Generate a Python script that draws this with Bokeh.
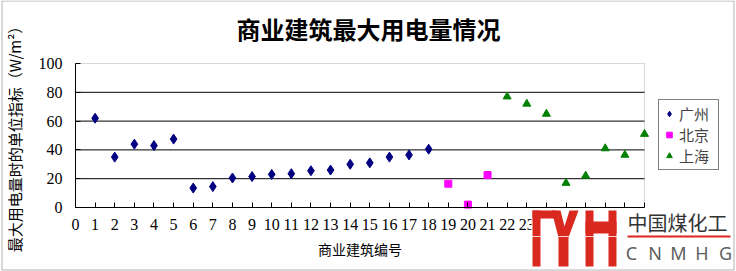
import numpy as np
from bokeh.plotting import figure
from bokeh.models import (FixedTicker, Legend, LegendItem, Label, BoxAnnotation,
                          PolyAnnotation, Range1d)
from bokeh.embed import file_html
from bokeh.resources import INLINE

# ---------------- data ----------------
title_text = "商业建筑最大用电量情况"
x_label = "商业建筑编号"
y_label = "最大用电量时的单位指标（W/m²）"
series_names = ["广州", "北京", "上海"]

gz_x = list(range(1, 19))
gz_y = [62, 35, 44, 43, 47.5, 13.5, 14.5, 20.5, 21.5, 23, 23.5, 25.5, 26, 30, 31, 35, 36.5, 40.5]
bj_x = [19, 20, 21]
bj_y = [16.5, 2, 22.5]
sh_x = [22, 23, 24, 25, 26, 27, 28, 29]
sh_y = [77, 72, 65, 17, 22, 41, 36.5, 51]

x_ticks = list(range(0, 30))
y_ticks = [0, 20, 40, 60, 80, 100]
grid_ticks = [20, 40, 60, 80]

logo_cn = "中国煤化工"
logo_en = ["C", "N", "M", "H", "G"]

# ---------------- layout (pixels) ----------------
W, H = 736, 271
PL, PR, PT, PB = 75, 644, 63, 207   # plot area edges in canvas pixels
x0, x1 = x_ticks[0], x_ticks[-1]
y0, y1 = y_ticks[0], y_ticks[-1]
kx = (PR - PL) / (x1 - x0)
ky = (PB - PT) / (y1 - y0)
xr = Range1d(x0 - PL / kx, x1 + (W - PR) / kx)
yr = Range1d(y0 - (H - PB) / ky, y1 + PT / ky)


def sx(x):
    return x


def sy(y):
    return H - y


p = figure(width=W, height=H, output_backend="svg", toolbar_location=None,
           x_range=xr, y_range=yr, title=None,
           min_border=0, min_border_left=0, min_border_right=0,
           min_border_top=0, min_border_bottom=0,
           background_fill_color="white", border_fill_color="white")
p.outline_line_color = None
p.xgrid.grid_line_color = None
p.ygrid.grid_line_color = None

for ax, ticks in ((p.xaxis[0], x_ticks), (p.yaxis[0], y_ticks)):
    ax.ticker = FixedTicker(ticks=ticks)
    ax.fixed_location = 0
    ax.major_tick_in = 5
    ax.major_tick_out = 0
    ax.minor_tick_line_color = None
    ax.axis_line_color = "black"
    ax.major_tick_line_color = "black"
    ax.major_label_text_font = "Liberation Serif"
    ax.major_label_text_font_size = "16px"
    ax.major_label_text_color = "black"
    ax.axis_label_text_font = "Noto Sans CJK SC"
    ax.axis_label_text_font_size = "14px"
    ax.axis_label_text_font_style = "normal"
    ax.axis_label_text_color = "black"

p.xaxis.bounds = (x0, x1)
p.yaxis.bounds = (y0, y1)
p.xaxis.axis_label = x_label
p.yaxis.axis_label = y_label
p.xaxis.major_label_standoff = 11
p.yaxis.major_label_standoff = 13
p.xaxis.axis_label_standoff = 6
p.yaxis.axis_label_standoff = 11
p.yaxis.axis_label_text_font_size = "15px"

# plot area border (gray) behind everything
p.add_layout(BoxAnnotation(left=x0, right=x1, bottom=y0, top=y1, level="underlay",
                           fill_alpha=0, line_color="#808080", line_width=1))
# horizontal grid lines across the plot area
p.segment(x0=[x0] * len(grid_ticks), x1=[x1] * len(grid_ticks),
          y0=grid_ticks, y1=grid_ticks, line_color="black", line_width=1)

r1 = p.scatter(gz_x, gz_y, marker="diamond", size=10, color="#000080")
r2 = p.scatter(bj_x, bj_y, marker="square", size=7, color="#FF00FF")
r3 = p.scatter(sh_x, sh_y, marker="triangle", size=8, color="#008000")

legend = Legend(items=[LegendItem(label=series_names[0], renderers=[r1]),
                       LegendItem(label=series_names[1], renderers=[r2]),
                       LegendItem(label=series_names[2], renderers=[r3])],
                location=(658, H - 170), border_line_color="black", border_line_width=1,
                background_fill_color="white", background_fill_alpha=1,
                label_text_font="Noto Sans CJK SC", label_text_font_size="15px",
                label_text_line_height=0.9,
                padding=3, spacing=0, glyph_width=14, glyph_height=19,
                label_standoff=3, label_height=19, label_width=36, margin=0)
p.add_layout(legend, "center")

# title
p.add_layout(Label(x=sx(368), y=sy(28), x_units="screen", y_units="screen",
                   text=title_text, text_align="center", text_baseline="middle",
                   text_font="Noto Sans CJK SC", text_font_size="24px",
                   text_font_style="bold", text_color="black"))


def screen_box(l, r, t, b, **kw):
    return BoxAnnotation(left=sx(l), right=sx(r), top=sy(t), bottom=sy(b),
                         left_units="screen", right_units="screen",
                         top_units="screen", bottom_units="screen", **kw)


# watermark logo
p.add_layout(screen_box(531, 733, 208, 268, fill_color="white", fill_alpha=1, line_color=None))
red = "#d9291f"
rects = [(532, 540, 210, 266), (532, 556, 210, 218), (558, 568, 236, 266),
         (585, 593, 210, 266), (608, 616, 210, 266), (585, 616, 221, 233),
         (627, 730, 235, 237)]
for (l, r, t, b) in rects:
    p.add_layout(screen_box(l, r, t, b, fill_color=red, fill_alpha=1, line_color=None))
vx = [551, 560, 564, 569, 578, 568, 558]
vy = [210, 210, 226, 210, 210, 237, 237]
p.add_layout(PolyAnnotation(xs=[sx(v) for v in vx], ys=[sy(v) for v in vy],
                            xs_units="screen", ys_units="screen",
                            fill_color=red, fill_alpha=1, line_color=None))
p.add_layout(screen_box(531, 618, 235.5, 236.5, fill_color="white", fill_alpha=0.8,
                        line_color=None))
p.add_layout(Label(x=sx(627), y=sy(221.5), x_units="screen", y_units="screen",
                   text=logo_cn, text_align="left", text_baseline="middle",
                   text_font="Noto Sans CJK SC", text_font_size="20px",
                   text_color="#333333"))
for i, ch in enumerate(logo_en):
    p.add_layout(Label(x=sx(631 + i * 23.5), y=sy(252), x_units="screen", y_units="screen",
                       text=ch, text_align="center", text_baseline="middle",
                       text_font="Noto Sans", text_font_size="18px",
                       text_color="#606060"))

# outer border of the chart
p.add_layout(screen_box(1.5, 733.5, 0.5, 269.5, fill_alpha=0, line_color="black",
                        line_width=1))

open("out.html", "w").write(file_html(p, INLINE))
